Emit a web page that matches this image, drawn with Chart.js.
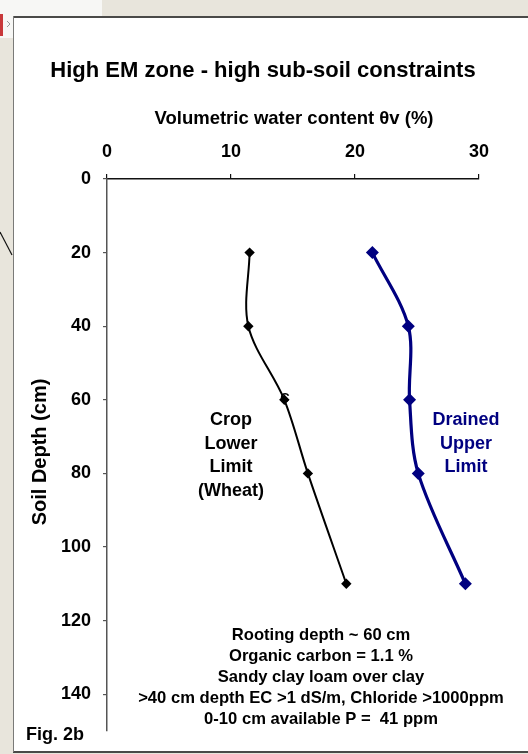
<!DOCTYPE html>
<html>
<head>
<meta charset="utf-8">
<title>High EM zone - high sub-soil constraints</title>
<script src="https://cdn.jsdelivr.net/npm/chart.js@4.4.1/dist/chart.umd.min.js"></script>
<style>
    html, body { margin: 0; padding: 0; background: #e8e5dc; }
    #wrap { position: absolute; left: 0; top: 0; width: 528px; height: 754px; }
</style>
</head>
<body>
<div id="wrap"><canvas id="soilChart" width="528" height="754"></canvas></div>
<script>
// Soil depth of each sample (cm)
const depths = [20, 40, 60, 80, 110];
// Crop lower limit, wheat (θv %)
const lowerLimit = [11.5, 11.4, 14.3, 16.2, 19.3];
// Drained upper limit (θv %)
const upperLimit = [21.4, 24.3, 24.4, 25.1, 28.9];

// Axis ticks
const waterTicks = [0, 10, 20, 30];
const depthTicks = [0, 20, 40, 60, 80, 100, 120, 140];

const FONT = 'Arial, "Liberation Sans", sans-serif';

const notes = [
    'Rooting depth ~ 60 cm',
    'Organic carbon = 1.1 %',
    'Sandy clay loam over clay',
    '>40 cm depth EC >1 dS/m, Chloride >1000ppm',
    '0-10 cm available P =  41 ppm'
];

function toPoints(xs) {
    return xs.map((v, i) => ({ x: v, y: depths[i] }));
}

function drawText(ctx, text, x, y, size, color, align) {
    ctx.font = 'bold ' + size + 'px ' + FONT;
    ctx.fillStyle = color;
    ctx.textAlign = align || 'center';
    ctx.textBaseline = 'alphabetic';
    ctx.fillText(text, x, y);
}

// slide background, white panel and its borders
const backdrop = {
    id: 'backdrop',
    beforeDraw(chart) {
        const ctx = chart.ctx;
        ctx.save();
        ctx.fillStyle = '#e8e5dc';
        ctx.fillRect(0, 0, 528, 754);
        // bit of a picture peeking out top-left
        ctx.fillStyle = '#f7f7f5';
        ctx.fillRect(0, 0, 102, 16);
        ctx.fillRect(0, 16, 13, 22);
        ctx.fillStyle = '#c8383a';
        ctx.fillRect(0, 14, 3, 22);
        ctx.strokeStyle = '#999';
        ctx.lineWidth = 1;
        ctx.beginPath();
        ctx.moveTo(7, 21); ctx.lineTo(10, 24); ctx.lineTo(7, 27);
        ctx.stroke();
        // panel
        ctx.fillStyle = '#ffffff';
        ctx.fillRect(13, 16, 515, 736);
        ctx.fillStyle = '#4a4a48';
        ctx.fillRect(13, 16, 515, 2);
        ctx.fillRect(13, 751, 515, 2);
        ctx.fillStyle = '#7a7a78';
        ctx.fillRect(13, 16, 1, 736);
        // stray connector line on the left
        ctx.strokeStyle = '#111';
        ctx.lineWidth = 1.2;
        ctx.beginPath();
        ctx.moveTo(0, 232);
        ctx.lineTo(12, 255);
        ctx.stroke();
        ctx.restore();
    }
};

// titles and text boxes
const labels = {
    id: 'labels',
    afterDraw(chart) {
        const ctx = chart.ctx;
        ctx.save();
        drawText(ctx, 'High EM zone - high sub-soil constraints', 263, 77, 22, '#000');
        drawText(ctx, 'Volumetric water content θv (%)', 294, 124, 18.5, '#000');

        ctx.save();
        ctx.translate(46, 452);
        ctx.rotate(-Math.PI / 2);
        drawText(ctx, 'Soil Depth (cm)', 0, 0, 20, '#000');
        ctx.restore();

        ['Crop', 'Lower', 'Limit', '(Wheat)'].forEach((t, i) => {
            drawText(ctx, t, 231, 425 + i * 23.7, 18, '#000');
        });
        ['Drained', 'Upper', 'Limit'].forEach((t, i) => {
            drawText(ctx, t, 466, 425 + i * 23.7, 18, '#000080');
        });
        drawText(ctx, 'C', 285, 402, 13, '#000');

        notes.forEach((t, i) => {
            drawText(ctx, t, 321, 640 + i * 21.1, 16.6, '#000');
        });
        drawText(ctx, 'Fig. 2b', 26, 740, 18, '#000', 'left');
        ctx.restore();
    }
};

const ctx = document.getElementById('soilChart').getContext('2d');
new Chart(ctx, {
    type: 'scatter',
    data: {
        datasets: [
            {
                label: 'Crop Lower Limit (Wheat)',
                data: toPoints(lowerLimit),
                showLine: true,
                borderColor: '#000000',
                backgroundColor: '#000000',
                borderWidth: 2,
                tension: 0.33,
                pointStyle: 'rectRot',
                pointRadius: 5.2,
                pointBorderWidth: 0
            },
            {
                label: 'Drained Upper Limit',
                data: toPoints(upperLimit),
                showLine: true,
                borderColor: '#000080',
                backgroundColor: '#000080',
                borderWidth: 3.2,
                tension: 0.33,
                pointStyle: 'rectRot',
                pointRadius: 6.5,
                pointBorderWidth: 0
            }
        ]
    },
    options: {
        responsive: false,
        animation: false,
        devicePixelRatio: 1,
        layout: { padding: { left: 0, top: 0, right: 49, bottom: 23 } },
        plugins: {
            legend: { display: false },
            tooltip: { enabled: false }
        },
        scales: {
            x: {
                type: 'linear',
                position: 'top',
                min: 0,
                max: 30,
                afterBuildTicks: function(scale) {
                    scale.ticks = waterTicks.map(v => ({ value: v }));
                },
                afterFit: function(scale) {
                    scale.height = 179;
                },
                border: { display: true, color: '#111', width: 1.5 },
                grid: { drawOnChartArea: false, drawTicks: true, tickLength: 5, color: '#111', lineWidth: 1.2 },
                ticks: {
                    color: '#000',
                    padding: 11,
                    maxRotation: 0,
                    font: { family: FONT, size: 18, weight: 'bold' }
                }
            },
            y: {
                type: 'linear',
                reverse: true,
                min: 0,
                max: 150,
                afterBuildTicks: function(scale) {
                    scale.ticks = depthTicks.map(v => ({ value: v }));
                },
                afterFit: function(scale) {
                    scale.width = 107;
                },
                border: { display: true, color: '#555', width: 1.5 },
                grid: { drawOnChartArea: false, drawTicks: true, tickLength: 4, color: '#555', lineWidth: 1.2 },
                ticks: {
                    color: '#000',
                    padding: 12,
                    font: { family: FONT, size: 18, weight: 'bold' }
                }
            }
        }
    },
    plugins: [backdrop, labels]
});
</script>
</body>
</html>
